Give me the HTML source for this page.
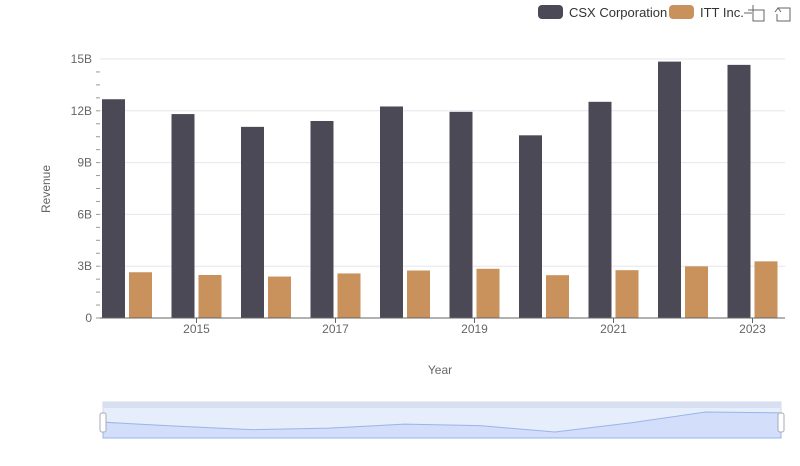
<!DOCTYPE html>
<html><head><meta charset="utf-8"><style>
body{margin:0;background:#fff;font-family:"Liberation Sans",sans-serif}
svg text{font-family:"Liberation Sans",sans-serif}
</style></head><body>
<svg width="800" height="461" id="c">
<g>
<g><rect x="538" y="5" width="25" height="14" rx="4" fill="#4a4955"/><text x="569" y="17" font-size="13" fill="#333">CSX Corporation</text></g>
<g><rect x="669" y="5" width="25" height="14" rx="4" fill="#c9915c"/><text x="700" y="17" font-size="13" fill="#333">ITT Inc.</text></g>
<g stroke="#666" fill="none"><path d="M748 10h16v11h-11v-16M744 13h8"/></g>
<g stroke="#666" fill="none"><path d="M778 8h12v13h-13v-7M775 12l3-4 3 4"/></g>
</g>
<g id="grid"></g><g id="bars"></g><g id="axes"></g>
<text transform="translate(50,189) rotate(-90)" text-anchor="middle" font-size="12" fill="#666">Revenue</text>
<text x="440" y="374" text-anchor="middle" font-size="12" fill="#666">Year</text>
<g>
<rect x="103" y="402" width="678" height="36" fill="#e6edfb" stroke="#d0d8ea"/>
<rect x="103" y="402" width="678" height="6" fill="#d8dff0"/>
<path id="sl" fill="#d2defa" stroke="#9bb4ea"/>
<rect x="100" y="413" width="6" height="19" rx="2" fill="#fff" stroke="#aab"/>
<rect x="778" y="413" width="6" height="19" rx="2" fill="#fff" stroke="#aab"/>
</g>
</svg>
<script>
const years=[2014,2015,2016,2017,2018,2019,2020,2021,2022,2023];
const csx=[12.67,11.81,11.07,11.41,12.25,11.94,10.58,12.52,14.85,14.66];
const itt=[2.65,2.49,2.4,2.58,2.75,2.85,2.48,2.77,2.99,3.28];
const yTicks=[0,3,6,9,12,15];
const yLabels=["0","3B","6B","9B","12B","15B"];
const NS="http://www.w3.org/2000/svg";
const x=i=>127+69.5*i, y=v=>318-v*259/15;
function mk(t,a,p){const e=document.createElementNS(NS,t);for(const k in a)e.setAttribute(k,a[k]);p.appendChild(e);return e;}
const g=document.getElementById('grid'),b=document.getElementById('bars'),ax=document.getElementById('axes');
yTicks.forEach((v,i)=>{
 const l=mk('line',{x1:100,x2:785,y1:y(v),y2:y(v),stroke:'#e6e6ee'},g);
 
 
 const t=mk('text',{x:92,y:y(v)+4,'text-anchor':'end','font-size':12,fill:'#666'},ax);t.textContent=yLabels[i];
 
 
});
for(let v=0;v<15;v+=0.75){mk('line',{x1:96,x2:100,y1:y(v),y2:y(v),stroke:'#999'},ax);}
years.forEach((yr,i)=>{
 const c=x(i);
 const r1=mk('rect',{x:c-25,y:y(csx[i]),width:23,height:318-y(csx[i]),fill:'#4a4955'},b);
 
 
 const r2=mk('rect',{x:c+2,y:y(itt[i]),width:23,height:318-y(itt[i]),fill:'#c9915c'},b);
 
 
 if(yr%2==1){
  mk('line',{x1:c,x2:c,y1:318,y2:323,stroke:'#666'},ax);
  const t=mk('text',{x:c,y:333,'text-anchor':'middle','font-size':12,fill:'#666'},ax);t.textContent=yr;
  
  
 }
});
const al=mk('line',{x1:100,x2:785,y1:318,y2:318,stroke:'#666'},ax);


const sx=i=>103+678*i/(years.length-1), sy=v=>412+(14.85-v)*4.68;
let d='M103 438';csx.forEach((v,i)=>d+=' L'+sx(i)+' '+sy(v));d+=' L781 438Z';
document.getElementById('sl').setAttribute('d',d);
</script>
</body></html>
